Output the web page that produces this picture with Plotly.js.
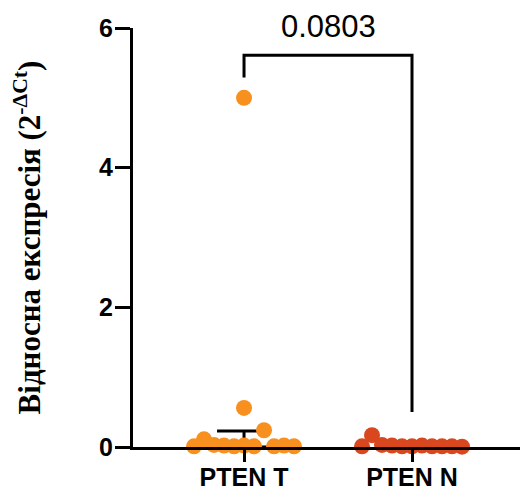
<!DOCTYPE html>
<html>
<head>
<meta charset="utf-8">
<script src="https://cdn.plot.ly/plotly-3.0.1.min.js"></script>
<style>html,body{margin:0;padding:0;background:#fff;}#chart{width:520px;height:495px;}</style>
</head>
<body>
<div id="chart"></div>
<script>
// ---- data (in sheet order) ----
var categories = ['PTEN T', 'PTEN N'];
var ptenT = [0.01, 0.11, 0.03, 0.02, 0.01, 0.02, 0.01, 0.24, 0.01, 0.02, 0.01, 0.56, 5.0];
var ptenN = [0.01, 0.17, 0.03, 0.02, 0.01, 0.01, 0.02, 0.01, 0.01, 0.01, 0.005];
var summaryCenter = [0.03, 0.02];   // median
var summaryUpper = [0.23, 0.04];    // upper bar
var pValue = '0.0803';
var yTicks = [0, 2, 4, 6];

// ---- layout constants ----
var W = 520, H = 495;
var M = {l: 133, r: 0, t: 28, b: 48};
var xRange = [0.339, 2.643];
var yRange = [0, 6];
var pxPerX = (W - M.l - M.r) / (xRange[1] - xRange[0]);
var pxPerY = (H - M.t - M.b) / (yRange[1] - yRange[0]);
var colors = ['#F7901E', '#D9471F'];
var markerSize = 16;
var binPx = 18;      // vertical bin height for the scatter spread
var spacingPx = 10;  // horizontal spacing inside a bin

// binned scatter spread (points in one bin are spread left to right, in sheet order)
function spread(values) {
  var bins = {};
  values.forEach(function (v, i) {
    var b = Math.floor(v * pxPerY / binPx);
    (bins[b] = bins[b] || []).push(i);
  });
  var offs = new Array(values.length);
  Object.keys(bins).forEach(function (b) {
    var list = bins[b], n = list.length;
    list.forEach(function (i, k) {
      offs[i] = (k - (n - 1) / 2) * spacingPx / pxPerX;
    });
  });
  return offs;
}

var groups = [ptenT, ptenN];
var traces = [];

// summary error bars (drawn beneath points)
traces.push({
  type: 'scatter', mode: 'markers',
  x: [1, 2], y: summaryCenter,
  marker: {size: 1, color: 'rgba(0,0,0,0)'},
  error_y: {type: 'data', symmetric: false,
    array: summaryUpper.map(function (u, i) { return u - summaryCenter[i]; }),
    arrayminus: summaryCenter.map(function (c) { return c; }),
    color: '#000', thickness: 3, width: 27},
  cliponaxis: false, hoverinfo: 'skip', showlegend: false
});

groups.forEach(function (vals, g) {
  var offs = spread(vals);
  traces.push({
    type: 'scatter', mode: 'markers',
    x: vals.map(function (v, i) { return g + 1 + offs[i]; }),
    y: vals,
    marker: {size: markerSize, color: colors[g], line: {width: 0}},
    cliponaxis: false, showlegend: false, name: categories[g]
  });
});

var bracketTop = 5.61, leftBottom = 5.29, rightBottom = 0.5;

var layout = {
  width: W, height: H,
  margin: M,
  paper_bgcolor: '#fff', plot_bgcolor: '#fff',
  showlegend: false,
  xaxis: {
    range: xRange, tickvals: [1, 2], ticktext: categories,
    showgrid: false, zeroline: false, showline: true, linecolor: '#000', linewidth: 3,
    ticks: 'outside', ticklen: 12, tickwidth: 3, tickcolor: '#000',
    ticklabelstandoff: -6,
    tickfont: {family: 'Liberation Sans, Arial, sans-serif', size: 25, color: '#000', weight: 'bold'},
    fixedrange: true
  },
  yaxis: {
    range: yRange, tickvals: yTicks,
    showgrid: false, zeroline: false, showline: true, linecolor: '#000', linewidth: 3,
    ticks: 'outside', ticklen: 15, tickwidth: 3, tickcolor: '#000',
    ticklabelstandoff: -3,
    tickfont: {family: 'Liberation Sans, Arial, sans-serif', size: 25, color: '#000', weight: 'bold'},
    title: {text: 'Відносна експресія (2<sup>-ΔCt</sup>)', standoff: 50,
      font: {family: 'Liberation Serif, Times New Roman, serif', size: 31, color: '#000', weight: 'bold'}},
    automargin: false, fixedrange: true
  },
  shapes: [{
    type: 'path', xref: 'x', yref: 'y',
    path: 'M 1 ' + leftBottom + ' L 1 ' + bracketTop + ' L 2 ' + bracketTop + ' L 2 ' + rightBottom,
    line: {color: '#000', width: 3}
  }],
  annotations: [{
    x: 1.5, y: bracketTop, xref: 'x', yref: 'y', text: pValue, showarrow: false,
    yanchor: 'bottom', yshift: 9,
    font: {family: 'Liberation Sans, Arial, sans-serif', size: 31, color: '#000'}
  }]
};

Plotly.newPlot('chart', traces, layout, {displayModeBar: false, staticPlot: true});
</script>
</body>
</html>
